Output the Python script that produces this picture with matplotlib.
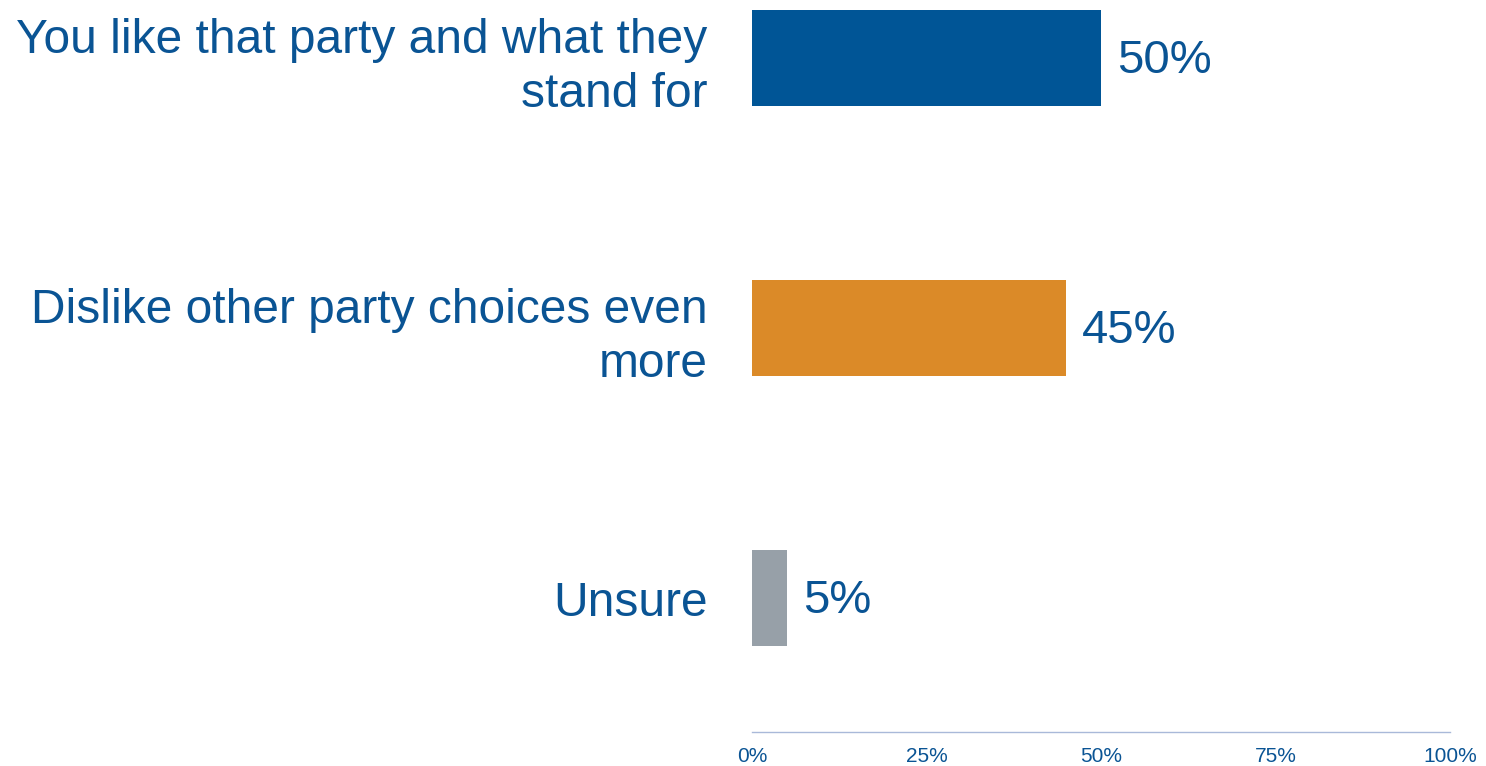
import matplotlib.pyplot as plt
import matplotlib.transforms as mtransforms

categories = ['You like that party and what they\nstand for',
              'Dislike other party choices even\nmore',
              'Unsure']
values = [50, 45, 5]
colors = ['#005596', '#DB8A28', '#97A0A8']
tick_vals = [0, 25, 50, 75, 100]
tick_labels = ['0%', '25%', '50%', '75%', '100%']

plt.rcParams['font.family'] = ['Liberation Sans', 'DejaVu Sans']
txt = '#0A5494'

fig = plt.figure(figsize=(14.86, 7.66), dpi=100)
ax = fig.add_axes([752/1486, 1 - 732/766, 698/1486, 732/766])

pos = list(range(len(categories)))
bars = ax.barh(pos, values, height=0.356, color=colors)
ax.set_xlim(0, 100)
ax.set_ylim(2.496, -0.215)

# value labels
for rect, v in zip(bars, values):
    ax.text(rect.get_width() + 2.3, rect.get_y() + rect.get_height()/2 + 0.012, '%d%%' % v,
            ha='left', va='center', fontsize=34, color=txt)

ax.set_yticks(pos)
ax.set_yticklabels(categories, fontsize=34.5, color=txt, linespacing=1.25)
# nudge the category labels up a little
shift = mtransforms.ScaledTranslation(0, 4/72, fig.dpi_scale_trans)
for lab in ax.get_yticklabels():
    lab.set_transform(lab.get_transform() + shift)
ax.set_xticks(tick_vals)
ax.set_xticklabels(tick_labels, fontsize=15, color=txt,
                   family=['Liberation Sans Narrow', 'Liberation Sans'])
ax.tick_params(axis='y', length=0, pad=32)
ax.tick_params(axis='x', length=0, pad=11)

for s in ['top', 'right', 'left']:
    ax.spines[s].set_visible(False)
ax.spines['bottom'].set_color('#A9B9D9')
ax.spines['bottom'].set_linewidth(1)

fig.savefig('out.png', dpi=100)
